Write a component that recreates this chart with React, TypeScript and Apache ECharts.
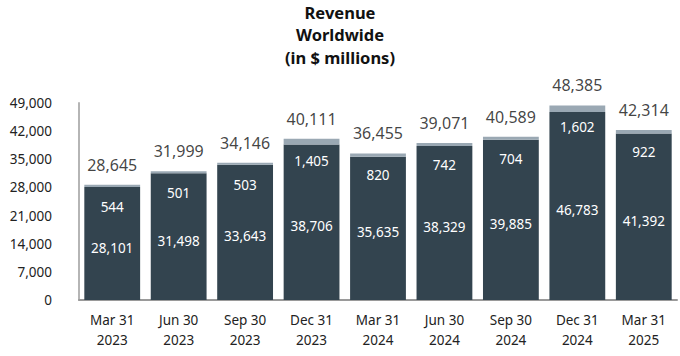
import React, { useEffect, useRef } from "react";
import * as echarts from "echarts";

const categories = [
  "Mar 31\n2023", "Jun 30\n2023", "Sep 30\n2023", "Dec 31\n2023", "Mar 31\n2024",
  "Jun 30\n2024", "Sep 30\n2024", "Dec 31\n2024", "Mar 31\n2025",
];
const baseValues = [28101, 31498, 33643, 38706, 35635, 38329, 39885, 46783, 41392];
const topValues = [544, 501, 503, 1405, 820, 742, 704, 1602, 922];
const totals = baseValues.map((v, i) => v + topValues[i]);

const FONT = "'Noto Sans', sans-serif";
const fmt = (v: number) => v.toLocaleString("en-US");

export default function App() {
  const ref = useRef<HTMLDivElement>(null);
  useEffect(() => {
    if (!ref.current) return;
    const chart = echarts.init(ref.current, undefined, { renderer: "svg" });
    chart.setOption({
      animation: false,
      backgroundColor: "#ffffff",
      textStyle: { fontFamily: FONT },
      title: {
        text: "Revenue\nWorldwide\n(in $ millions)",
        left: "center",
        top: 1,
        padding: 0,
        textStyle: { fontFamily: FONT, fontSize: 16.5, fontWeight: "bold", color: "#111", lineHeight: 22.5 },
      },
      grid: { left: 79, right: 3, top: 103, bottom: 56 },
      xAxis: {
        type: "category",
        data: categories,
        axisLine: { show: true, lineStyle: { color: "#9a9a9a", width: 2 } },
        axisTick: { show: false },
        axisLabel: { color: "#222", fontSize: 13.5, lineHeight: 20, margin: 10, fontFamily: FONT },
      },
      yAxis: {
        type: "value",
        min: 0,
        max: 49000,
        interval: 7000,
        axisLine: { show: true, lineStyle: { color: "#b5b5b5", width: 2 } },
        axisTick: { show: false },
        splitLine: { show: false },
        axisLabel: { color: "#222", fontSize: 13.5, margin: 27, formatter: (v: number) => fmt(v), fontFamily: FONT },
      },
      series: [
        {
          type: "bar",
          stack: "rev",
          data: baseValues,
          barCategoryGap: "16%",
          itemStyle: { color: "#33444f" },
          label: {
            show: true,
            position: "inside",
            offset: [0, 4],
            color: "#ffffff",
            fontSize: 13.5,
            fontFamily: FONT,
            formatter: (p: any) => fmt(p.value),
          },
        },
        {
          type: "bar",
          stack: "rev",
          data: topValues,
          itemStyle: { color: "#9aa8b3" },
          label: {
            show: true,
            position: ["50%", 22],
            align: "center",
            verticalAlign: "middle",
            color: "#ffffff",
            fontSize: 13.5,
            fontFamily: FONT,
            formatter: (p: any) => fmt(p.value),
          },
        },
        {
          type: "scatter",
          data: totals,
          symbolSize: 0,
          silent: true,
          label: {
            show: true,
            position: "top",
            distance: 12,
            color: "#111",
            fontSize: 16,
            fontFamily: FONT,
            formatter: (p: any) => fmt(p.value),
          },
        },
      ],
    });
    return () => chart.dispose();
  }, []);
  return (
    <div
      ref={ref}
      style={{ position: "fixed", left: 0, top: 0, width: 680, height: 356 }}
    />
  );
}
